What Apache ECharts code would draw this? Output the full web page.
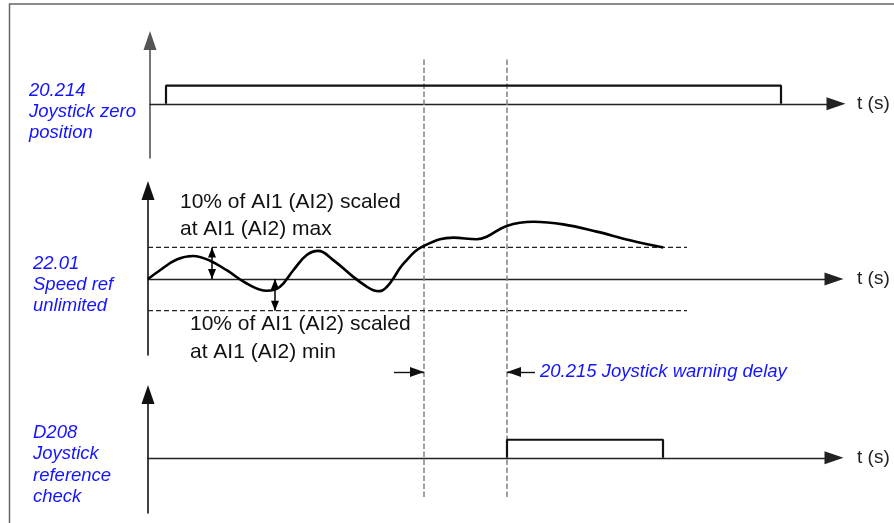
<!DOCTYPE html>
<html><head><meta charset="utf-8">
<script src="https://cdn.jsdelivr.net/npm/echarts@6/dist/echarts.min.js"></script>
<style>html,body{margin:0;padding:0;background:#fff}#c{width:894px;height:523px}</style>
</head><body><div id="c"></div>
<script>
// ---- data (time in arbitrary units, levels in panel units) ----
const zeroPositionPulse = [[1.6, 0], [1.6, 1], [63.1, 1], [63.1, 0]];
const speedRef = [[-0.2, 0], [1, 0.28], [2.67, 0.62], [4.33, 0.73], [6.0, 0.58], [7.67, 0.28], [9.67, -0.14],
  [11.67, -0.37], [13.0, -0.24], [14.33, 0.28], [15.67, 0.76], [16.83, 0.89], [18.33, 0.60], [20.33, 0.07],
  [21.67, -0.24], [22.33, -0.35], [23.0, -0.38], [23.67, -0.25], [24.33, 0.02], [25.0, 0.35], [25.67, 0.60],
  [26.5, 0.87], [27.33, 1.04], [29.0, 1.26], [30.33, 1.31],
  [32.67, 1.26], [33.67, 1.34], [35.67, 1.68], [38.33, 1.81], [41.33, 1.73], [44.67, 1.50], [48.0, 1.23], [51.33, 1.00]];
const bandUpper = [[-0.2, 1], [53.7, 1]];
const bandLower = [[-0.2, -1], [53.7, -1]];
const bandArrowMax = [[6.2, 0], [6.2, 1]];
const bandArrowMin = [[12.5, 0], [12.5, -1]];
const refCheckPulse = [[35.7, 0], [35.7, 1], [51.3, 1], [51.3, 0]];
const markerTimes = [27.4, 35.7];
const delayArrowIn = [[24.4, 27.4]];   // from -> to (arrow at 'to')
const delayArrowOut = [[38.5, 35.7]];
const delayArrowLevel = 0.285;
const axisName = 't (s)';
const labelZero = ['20.214', 'Joystick zero', 'position'];
const labelSpeed = ['22.01', 'Speed ref', 'unlimited'];
const labelCheck = ['D208', 'Joystick', 'reference', 'check'];
const noteMax = ['10% of AI1 (AI2) scaled', 'at AI1 (AI2) max'];
const noteMin = ['10% of AI1 (AI2) scaled', 'at AI1 (AI2) min'];
const noteDelay = '20.215 Joystick warning delay';

const BLUE = '#1414ff';
const FONT = '"Liberation Sans", Arial, sans-serif';

function xAx(gi, min, max, gap, show) {
  return {
    gridIndex: gi, type: 'value', min: min, max: max, show: show !== false,
    axisLine: { show: true, onZero: true, symbol: ['none', 'triangle'], symbolSize: [13, 19],
      lineStyle: { color: '#222', width: 1.3 } },
    axisTick: { show: false }, axisLabel: { show: false }, splitLine: { show: false },
    name: show === false ? '' : axisName, nameLocation: 'end', nameGap: gap,
    nameTextStyle: { fontSize: 19, color: '#222', fontFamily: FONT, verticalAlign: 'middle', align: 'left' }
  };
}
function yAx(gi, min, max, color, show) {
  return {
    gridIndex: gi, type: 'value', min: min, max: max, show: show !== false,
    axisLine: { show: true, onZero: false, symbol: ['none', 'triangle'], symbolSize: [13, 19],
      lineStyle: { color: color, width: 1.6 } },
    axisTick: { show: false }, axisLabel: { show: false }, splitLine: { show: false }
  };
}
const blackLine = { color: '#111', width: 2.2 };
function arrowPairs(list) {
  return list.map(p => [{ coord: p[0] }, { coord: p[1] }]);
}

const chart = echarts.init(document.getElementById('c'), null, { renderer: 'canvas' });
chart.setOption({
  animation: false,
  backgroundColor: '#fff',
  grid: [
    { left: 150, right: 58, top: 40.5, height: 117.5, outerBoundsMode: 'none' },
    { left: 148, right: 60, top: 190.5, height: 164.5, outerBoundsMode: 'none' },
    { left: 148, right: 60, top: 394.5, height: 118.5, outerBoundsMode: 'none' },
    { left: 150, right: 58, top: 58, height: 439, outerBoundsMode: 'none' }
  ],
  xAxis: [
    xAx(0, 0, 68.6, 21),
    xAx(1, -0.2, 68.4, 23),
    xAx(2, -0.2, 68.4, 23),
    xAx(3, 0, 68.6, 0, false)
  ],
  yAxis: [
    yAx(0, -3, 3.5, '#555'),
    yAx(1, -2.4, 2.8, '#111'),
    yAx(2, -3.05, 3.5, '#111'),
    yAx(3, 0, 1, '#111', false)
  ],
  series: [
    { type: 'line', xAxisIndex: 0, yAxisIndex: 0, data: zeroPositionPulse, showSymbol: false, lineStyle: blackLine, silent: true },
    { type: 'line', xAxisIndex: 1, yAxisIndex: 1, data: speedRef, showSymbol: false, smooth: 0.4,
      lineStyle: { color: '#000', width: 2.6 }, silent: true, z: 5,
      markLine: { silent: true, animation: false, symbol: ['triangle', 'triangle'], symbolSize: [8, 10],
        symbolOffset: [[0, 5], [0, 5]], label: { show: false },
        lineStyle: { type: 'solid', color: '#000', width: 1.5 },
        emphasis: { disabled: true },
        data: arrowPairs([bandArrowMax, bandArrowMin]) } },
    { type: 'line', xAxisIndex: 1, yAxisIndex: 1, data: bandUpper, showSymbol: false,
      lineStyle: { color: '#222', width: 1.2, type: [5, 3] }, silent: true },
    { type: 'line', xAxisIndex: 1, yAxisIndex: 1, data: bandLower, showSymbol: false,
      lineStyle: { color: '#222', width: 1.2, type: [5, 3] }, silent: true },
    { type: 'line', xAxisIndex: 2, yAxisIndex: 2, data: refCheckPulse, showSymbol: false, lineStyle: blackLine, silent: true },
    ...markerTimes.map((t, i) => ({
      type: 'line', xAxisIndex: 3, yAxisIndex: 3, data: [[t, 0], [t, 1]], showSymbol: false, silent: true, z: 1,
      lineStyle: { color: '#808080', width: 1.5, type: [5.5, 2.5] },
      markLine: i === 0 ? {
        silent: true, animation: false, symbol: ['none', 'triangle'], symbolSize: [10, 14],
        symbolOffset: [[0, 0], [0, 7]], label: { show: false },
        lineStyle: { type: 'solid', color: '#111', width: 1.4 }, emphasis: { disabled: true },
        data: arrowPairs(delayArrowIn.concat(delayArrowOut).map(a => [[a[0], delayArrowLevel], [a[1], delayArrowLevel]]))
      } : undefined
    }))
  ],
  graphic: [
    { type: 'polyline', shape: { points: [[9.5, 523], [9.5, 4], [894, 4]] }, style: { stroke: '#666', lineWidth: 1.5, fill: null }, silent: true },
    { type: 'text', x: 29, y: 80, style: { text: labelZero.join('\n'), fill: BLUE, font: 'italic 18.5px ' + FONT, lineHeight: 21, verticalAlign: 'top' }, silent: true },
    { type: 'text', x: 33, y: 253.5, style: { text: labelSpeed.join('\n'), fill: BLUE, font: 'italic 18.5px ' + FONT, lineHeight: 21, verticalAlign: 'top' }, silent: true },
    { type: 'text', x: 33, y: 422.5, style: { text: labelCheck.join('\n'), fill: BLUE, font: 'italic 18.5px ' + FONT, lineHeight: 21.2, verticalAlign: 'top' }, silent: true },
    { type: 'text', x: 180, y: 189, style: { text: noteMax.join('\n'), fill: '#111', font: '21px ' + FONT, lineHeight: 27, verticalAlign: 'top' }, silent: true },
    { type: 'text', x: 190, y: 310.5, style: { text: noteMin.join('\n'), fill: '#111', font: '21px ' + FONT, lineHeight: 27.5, verticalAlign: 'top' }, silent: true },
    { type: 'text', x: 540, y: 371.7, style: { text: noteDelay, fill: BLUE, font: 'italic 18.5px ' + FONT, verticalAlign: 'middle' }, silent: true }
  ]
});
</script>
</body></html>
